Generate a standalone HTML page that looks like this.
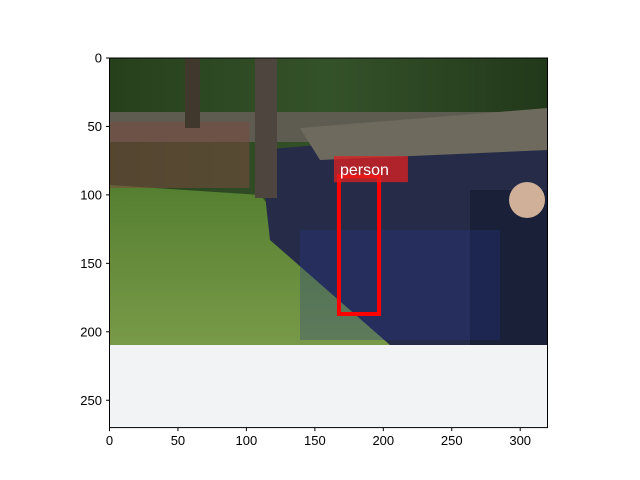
<!DOCTYPE html>
<html><head><meta charset="utf-8"><style>
body{margin:0;background:#fff;}
svg{display:block;font-family:"Liberation Sans","DejaVu Sans",sans-serif;}
</style></head><body>
<svg id="chart" width="640" height="480" viewBox="0 0 640 480" xmlns="http://www.w3.org/2000/svg">
<defs>
<linearGradient id="grass" x1="0" y1="0" x2="0" y2="1"><stop offset="0" stop-color="#557f30"/><stop offset="1" stop-color="#789a48"/></linearGradient>
<linearGradient id="trees" x1="0" y1="0" x2="1" y2="0"><stop offset="0" stop-color="#26401c"/><stop offset="0.5" stop-color="#34522a"/><stop offset="1" stop-color="#22381a"/></linearGradient>
<clipPath id="imgclip"><rect x="109.5" y="58" width="438" height="287"/></clipPath>
</defs>
<g id="image" clip-path="url(#imgclip)">
<rect x="109.5" y="58" width="438" height="287" fill="url(#trees)"/>
<rect x="109.5" y="112" width="438" height="30" fill="#5e5c50"/>
<polygon points="109.5,185 260,195 390,345 109.5,345" fill="url(#grass)"/>
<rect x="109.5" y="122" width="140" height="66" fill="#7a4a40" opacity="0.55"/>
<polygon points="260,150 547.5,125 547.5,345 390,345 270,240" fill="#262c48"/>
<polygon points="300,128 547.5,108 547.5,150 320,160" fill="#6e6a5e"/>
<rect x="255" y="58" width="22" height="140" fill="#4e463e"/>
<rect x="185" y="58" width="15" height="70" fill="#40382c"/>
<rect x="470" y="190" width="77" height="155" fill="#1a2038"/>
<circle cx="527" cy="200" r="18" fill="#d0b098"/>
<rect x="300" y="230" width="200" height="110" fill="#24348a" opacity="0.3"/>
</g>
<rect id="blank" x="109.5" y="345" width="438" height="83" fill="#f2f3f5"/>
<rect x="109.5" y="58" width="438" height="369.6" fill="none" stroke="#000" stroke-width="1"/>
<g id="ticks"></g>
<g id="boxes"></g>
</svg>
<script>
const xTicks=[0,50,100,150,200,250,300];
const yTicks=[0,50,100,150,200,250];
const boxLabels=["person"];
const boxX0=[167.6];
const boxY0=[86.3];
const boxX1=[196.9];
const boxY1=[187];
const ox=109.5, oy=58, s=1.369;
const X=v=>ox+v*s, Y=v=>oy+v*s;
const NS="http://www.w3.org/2000/svg";
const tg=document.getElementById('ticks');
function mk(t,a,p){const e=document.createElementNS(NS,t);for(const k in a)e.setAttribute(k,a[k]);p.appendChild(e);return e;}
xTicks.forEach(v=>{
 const l=mk('line',{x1:X(v),x2:X(v),y1:427.6,y2:431.1,stroke:'#000'},tg);
 
 
 const t=mk('text',{x:X(v),y:445,'text-anchor':'middle','font-size':'13'},tg);t.textContent=v;
 
 
});
yTicks.forEach(v=>{
 const l=mk('line',{x1:106,x2:109.5,y1:Y(v),y2:Y(v),stroke:'#000'},tg);
 
 
 const t=mk('text',{x:102,y:Y(v)+4.5,'text-anchor':'end','font-size':'13'},tg);t.textContent=v;
 
 
});
const bg=document.getElementById('boxes');
boxLabels.forEach((lab,i)=>{
 const r=mk('rect',{x:X(boxX0[i]),y:Y(boxY0[i]),width:X(boxX1[i])-X(boxX0[i]),height:Y(boxY1[i])-Y(boxY0[i]),fill:'none',stroke:'#f00','stroke-width':'4'},bg);
 
 
 const b=mk('rect',{x:X(boxX0[i])-5,y:Y(boxY0[i])-20,width:74,height:26,fill:'#e02020',opacity:'0.75'},bg);
 
 
 const t=mk('text',{x:X(boxX0[i])+1,y:Y(boxY0[i])-1,fill:'#fff','font-size':'16'},bg);t.textContent=lab;
 
 
});
</script>
</body></html>
